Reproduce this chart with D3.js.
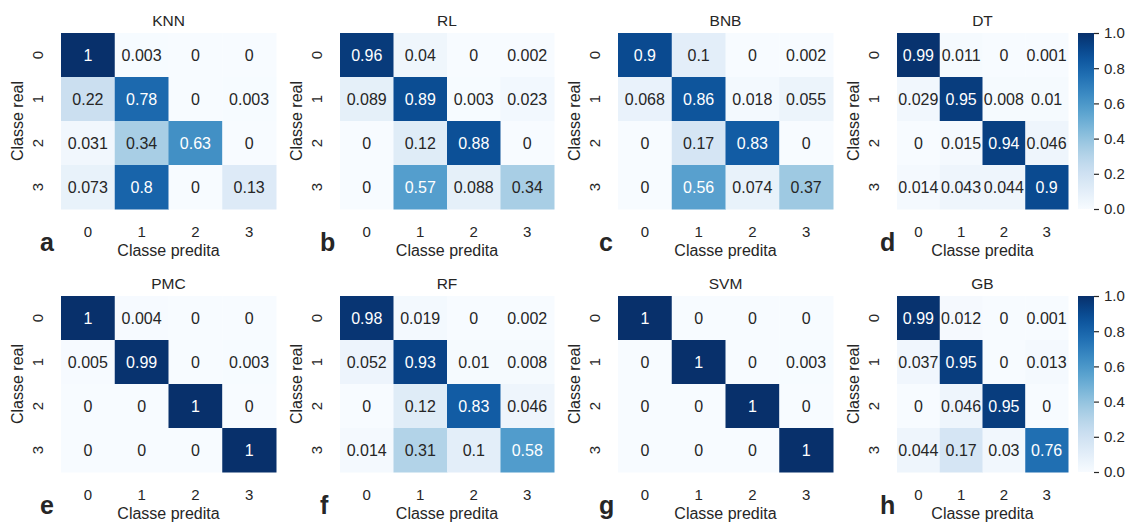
<!DOCTYPE html>
<html>
<head>
<meta charset="utf-8">
<script src="https://cdn.jsdelivr.net/npm/d3@7"></script>
<style>
  html, body { margin: 0; padding: 0; background: #ffffff; }
  svg text { font-family: "Liberation Sans", Arial, sans-serif; fill: #262626; }
</style>
</head>
<body>
<svg id="chart" width="1129" height="525"></svg>
<script>
// Class labels shared by every confusion matrix
const classes = ["0", "1", "2", "3"];

// Model names and panel letters, in reading order
const models = ["KNN", "RL", "BNB", "DT", "PMC", "RF", "SVM", "GB"];
const letters = ["a", "b", "c", "d", "e", "f", "g", "h"];

// Normalised confusion matrices (rows = real class, columns = predicted class)
const knn = [[1, 0.003, 0, 0], [0.22, 0.78, 0, 0.003], [0.031, 0.34, 0.63, 0], [0.073, 0.8, 0, 0.13]];
const rl  = [[0.96, 0.04, 0, 0.002], [0.089, 0.89, 0.003, 0.023], [0, 0.12, 0.88, 0], [0, 0.57, 0.088, 0.34]];
const bnb = [[0.9, 0.1, 0, 0.002], [0.068, 0.86, 0.018, 0.055], [0, 0.17, 0.83, 0], [0, 0.56, 0.074, 0.37]];
const dt  = [[0.99, 0.011, 0, 0.001], [0.029, 0.95, 0.008, 0.01], [0, 0.015, 0.94, 0.046], [0.014, 0.043, 0.044, 0.9]];
const pmc = [[1, 0.004, 0, 0], [0.005, 0.99, 0, 0.003], [0, 0, 1, 0], [0, 0, 0, 1]];
const rf  = [[0.98, 0.019, 0, 0.002], [0.052, 0.93, 0.01, 0.008], [0, 0.12, 0.83, 0.046], [0.014, 0.31, 0.1, 0.58]];
const svm = [[1, 0, 0, 0], [0, 1, 0, 0.003], [0, 0, 1, 0], [0, 0, 0, 1]];
const gb  = [[0.99, 0.012, 0, 0.001], [0.037, 0.95, 0, 0.013], [0, 0.046, 0.95, 0], [0.044, 0.17, 0.03, 0.76]];
const matrices = [knn, rl, bnb, dt, pmc, rf, svm, gb];

// Colour bar ticks
const colorbarTicks = [0, 0.2, 0.4, 0.6, 0.8, 1.0];

const svg = d3.select("#chart");
const color = d3.scaleSequential(d3.interpolateBlues).domain([0, 1]);

// Panel geometry
const lefts = [61, 340, 618, 897];
const widths = [215, 214, 215, 171];
const tops = [33, 296];
const H = 176;
const letterOffset = [21, 20, 19, 17];

function luminance(c) {
  const rgb = d3.rgb(c);
  const f = v => { v /= 255; return v <= 0.03928 ? v / 12.92 : Math.pow((v + 0.055) / 1.055, 2.4); };
  return 0.2126 * f(rgb.r) + 0.7152 * f(rgb.g) + 0.0722 * f(rgb.b);
}

models.forEach((name, i) => {
  const col = i % 4, row = Math.floor(i / 4);
  const x0 = lefts[col], y0 = tops[row], w = widths[col];
  const data = matrices[i];

  const x = d3.scaleBand().domain(classes).range([x0, x0 + w]);
  const y = d3.scaleBand().domain(classes).range([y0, y0 + H]);

  const g = svg.append("g");

  const cells = [];
  data.forEach((r, ri) => r.forEach((v, ci) => cells.push({ r: classes[ri], c: classes[ci], v })));

  g.selectAll("rect").data(cells).join("rect")
    .attr("x", d => x(d.c)).attr("y", d => y(d.r))
    .attr("width", x.bandwidth() + 0.5).attr("height", y.bandwidth() + 0.5)
    .attr("fill", d => color(d.v));

  g.selectAll("text.annot").data(cells).join("text")
    .attr("class", "annot")
    .attr("x", d => x(d.c) + x.bandwidth() / 2)
    .attr("y", d => y(d.r) + y.bandwidth() / 2)
    .attr("dy", "0.36em")
    .attr("text-anchor", "middle")
    .style("font-size", "16px")
    .style("fill", d => luminance(color(d.v)) > 0.408 ? "#262626" : "#ffffff")
    .text(d => String(d.v));

  // Title
  g.append("text")
    .attr("x", x0 + w / 2).attr("y", y0 - 7)
    .attr("text-anchor", "middle").style("font-size", "15.5px")
    .text(name);

  // X tick labels
  g.selectAll("text.xt").data(classes).join("text")
    .attr("class", "xt")
    .attr("x", d => x(d) + x.bandwidth() / 2)
    .attr("y", y0 + H + 28)
    .attr("text-anchor", "middle").style("font-size", "15px")
    .text(d => d);

  // Y tick labels (rotated)
  g.selectAll("text.yt").data(classes).join("text")
    .attr("class", "yt")
    .attr("transform", d => `translate(${x0 - 23},${y(d) + y.bandwidth() / 2}) rotate(-90)`)
    .attr("dy", "0.36em")
    .attr("text-anchor", "middle").style("font-size", "15px")
    .text(d => d);

  // Axis titles
  g.append("text")
    .attr("x", x0 + w / 2).attr("y", y0 + H + 47)
    .attr("text-anchor", "middle").style("font-size", "16px")
    .text("Classe predita");

  g.append("text")
    .attr("transform", `translate(${x0 - 44},${y0 + H / 2}) rotate(-90)`)
    .attr("dy", "0.36em")
    .attr("text-anchor", "middle").style("font-size", "16px")
    .text("Classe real");

  // Panel letter
  g.append("text")
    .attr("x", x0 - letterOffset[col]).attr("y", y0 + H + 42)
    .style("font-size", "25px").style("font-weight", "bold")
    .text(letters[i]);
});

// Colour bars, one per row
const defs = svg.append("defs");
const grad = defs.append("linearGradient").attr("id", "blues")
  .attr("x1", 0).attr("y1", 1).attr("x2", 0).attr("y2", 0);
d3.range(0, 1.0001, 0.05).forEach(t => {
  grad.append("stop").attr("offset", t).attr("stop-color", color(t));
});

tops.forEach(t => {
  const cx = 1078, cw = 16;
  svg.append("rect").attr("x", cx).attr("y", t).attr("width", cw).attr("height", H)
    .attr("fill", "url(#blues)");
  const cy = d3.scaleLinear().domain([0, 1]).range([t + H, t]);
  const ax = svg.append("g").attr("transform", `translate(${cx + cw},0)`)
    .call(d3.axisRight(cy).tickValues(colorbarTicks).tickFormat(d3.format(".1f")).tickSize(5).tickPadding(5));
  ax.select(".domain").remove();
  ax.selectAll("line").attr("stroke", "#262626").attr("stroke-width", 1.2);
  ax.selectAll("text").style("font-size", "15px").style("font-family", "Liberation Sans, Arial, sans-serif").attr("fill", "#262626");
});
</script>
</body>
</html>
